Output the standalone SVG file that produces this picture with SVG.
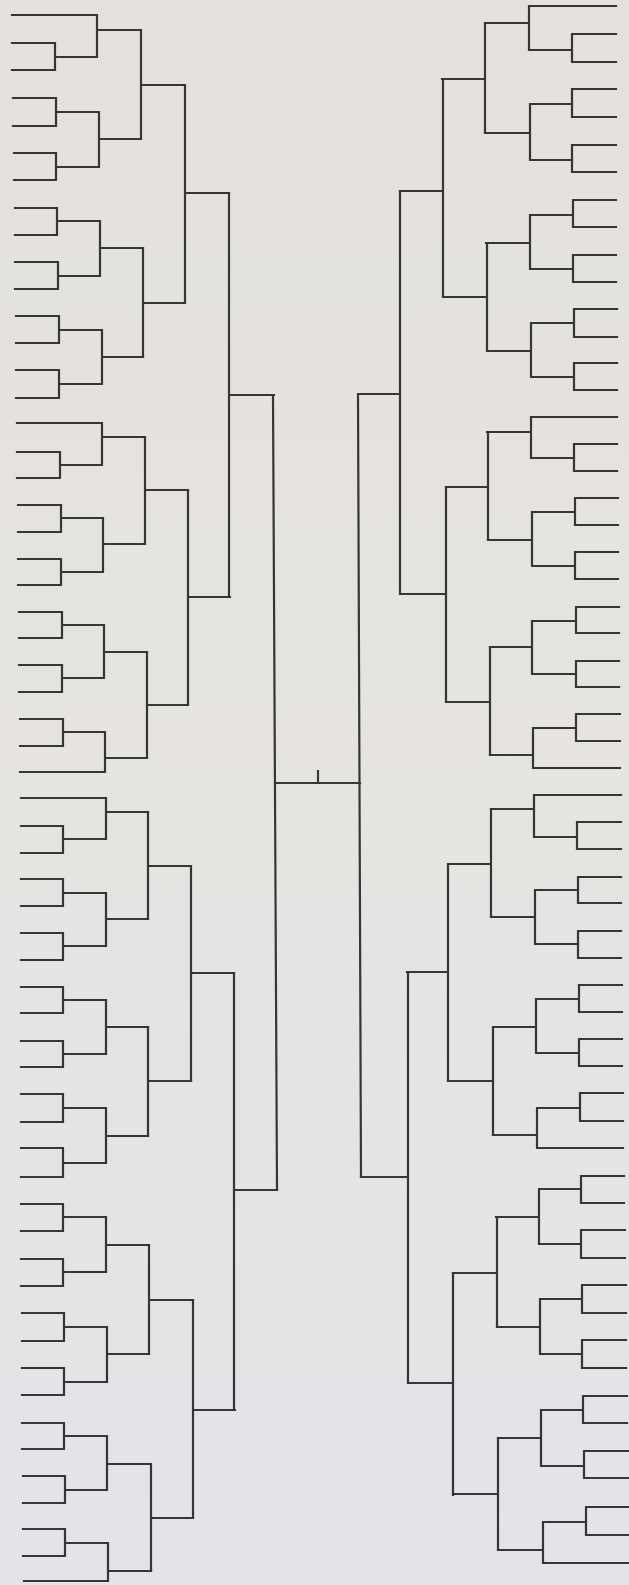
<svg xmlns="http://www.w3.org/2000/svg" width="629" height="1585" viewBox="0 0 629 1585">
<defs>
<linearGradient id="bg" x1="0" y1="0" x2="0" y2="1">
<stop offset="0" stop-color="#e4e1dc"/>
<stop offset="0.5" stop-color="#e6e4e1"/>
<stop offset="1" stop-color="#e3e4e9"/>
</linearGradient>
<style>
.ln{fill:none;stroke:#363636;stroke-width:2.2;stroke-linejoin:miter;stroke-linecap:square}
</style>
</defs>
<rect width="629" height="1585" fill="url(#bg)"/>

<g id="L-A" class="ln">
<path d="M12 15 H97 M12 43 H55 V70 H12 M55 57 H97 M97 15 V57 M97 30 H140"/>
<path d="M13 98 H56 V126 H13 M56 112 H99 M14 153 H56 V180 H14 M56 167 H99 M99 112 V167 M99 139 H141"/>
<path d="M141 30 V139 M141 85 H184"/>
</g>
<g id="L-B" class="ln">
<path d="M15 208 H57 V235 H15 M57 221 H100 M15 262 H58 V289 H15 M58 276 H100 M100 221 V276 M100 248 H143"/>
<path d="M16 316 H59 V343 H16 M59 330 H102 M16 370 H59 V398 H16 M59 384 H102 M102 330 V384 M102 357 H143"/>
<path d="M143 248 V357 M143 303 H185"/>
</g>
<g id="L-C" class="ln">
<path d="M17 423 H102 M17 452 H60 V478 H17 M60 465 H102 M102 423 V465 M102 437 H145"/>
<path d="M18 505 H61 V532 H18 M61 518 H103 M18 559 H61 V585 H18 M61 572 H103 M103 518 V572 M103 544 H145"/>
<path d="M145 437 V544 M145 490 H188"/>
</g>
<g id="L-D" class="ln">
<path d="M19 612 H62 V638 H19 M62 625 H104 M19 665 H62 V692 H19 M62 678 H104 M104 625 V678 M104 652 H147"/>
<path d="M20 719 H63 V746 H20 M63 732 H105 M20 772 H105 M105 732 V772 M105 758 H147"/>
<path d="M147 652 V758 M147 705 H188"/>
</g>
<g id="L-E" class="ln">
<path d="M21 798 H106 M21 826 H63 V853 H21 M63 839 H106 M106 798 V839 M106 812 H148"/>
<path d="M21 879 H63 V906 H21 M63 893 H106 M21 933 H63 V960 H21 M63 946 H106 M106 893 V946 M106 919 H148"/>
<path d="M148 812 V919 M148 866 H191"/>
</g>
<g id="L-F" class="ln">
<path d="M21 987 H63 V1013 H21 M63 1000 H106 M21 1041 H63 V1067 H21 M63 1054 H106 M106 1000 V1054 M106 1027 H148"/>
<path d="M21 1094 H63 V1122 H21 M63 1108 H106 M21 1148 H63 V1177 H21 M63 1163 H106 M106 1108 V1163 M106 1136 H148"/>
<path d="M148 1027 V1136 M148 1081 H191"/>
</g>
<g id="L-G" class="ln">
<path d="M21 1204 H63 V1231 H21 M63 1217 H106 M21 1259 H63 V1286 H21 M63 1272 H106 M106 1217 V1272 M106 1245 H149"/>
<path d="M22 1313 H64 V1341 H22 M64 1327 H107 M22 1368 H64 V1395 H22 M64 1382 H107 M107 1327 V1382 M107 1354 H149"/>
<path d="M149 1245 V1354 M149 1300 H193"/>
</g>
<g id="L-H" class="ln">
<path d="M22 1423 H64 V1449 H22 M64 1436 H107 M23 1476 H65 V1503 H23 M65 1490 H107 M107 1436 V1490 M107 1464 H150"/>
<path d="M23 1529 H65 V1556 H23 M65 1543 H108 M24 1581 H108 M108 1543 V1581 M108 1571 H151"/>
<path d="M151 1464 V1571 M151 1518 H193"/>
</g>

<g id="R-A" class="ln">
<path d="M616 6 H529 M616 34 H572 V62 H616 M572 50 H529 M529 6 V50 M529 23 H485"/>
<path d="M616 89 H572 V117 H616 M572 104 H530 M616 145 H572 V172 H616 M572 160 H530 M530 104 V160 M530 133 H485"/>
<path d="M485 23 V133 M485 79 H442"/>
</g>
<g id="R-B" class="ln">
<path d="M616 200 H573 V227 H616 M573 215 H530 M616 255 H573 V282 H616 M573 269 H530 M530 215 V269 M530 243 H486"/>
<path d="M617 309 H574 V337 H617 M574 323 H531 M617 363 H574 V390 H617 M574 377 H531 M531 323 V377 M531 351 H487"/>
<path d="M487 243 V351 M487 297 H443"/>
</g>
<g id="R-C" class="ln">
<path d="M617 417 H531 M617 444 H574 V471 H617 M574 458 H531 M531 417 V458 M531 432 H487"/>
<path d="M618 498 H575 V525 H618 M575 512 H532 M618 552 H575 V579 H618 M575 566 H532 M532 512 V566 M532 540 H488"/>
<path d="M488 432 V540 M488 487 H446"/>
</g>
<g id="R-D" class="ln">
<path d="M619 607 H576 V633 H619 M576 621 H532 M619 661 H576 V687 H619 M576 674 H532 M532 621 V674 M532 647 H490"/>
<path d="M620 714 H576 V741 H620 M576 728 H533 M620 768 H533 M533 728 V768 M533 755 H490"/>
<path d="M490 647 V755 M490 702 H446"/>
</g>
<g id="R-E" class="ln">
<path d="M621 795 H534 M621 822 H577 V849 H621 M577 837 H534 M534 795 V837 M534 809 H491"/>
<path d="M621 877 H578 V903 H621 M578 890 H535 M621 931 H578 V958 H621 M578 944 H535 M535 890 V944 M535 917 H491"/>
<path d="M491 809 V917 M491 864 H448"/>
</g>
<g id="R-F" class="ln">
<path d="M622 985 H579 V1012 H622 M579 999 H536 M622 1039 H579 V1066 H622 M579 1053 H536 M536 999 V1053 M536 1027 H493"/>
<path d="M623 1093 H580 V1121 H623 M580 1108 H537 M623 1148 H537 M537 1108 V1148 M537 1135 H493"/>
<path d="M493 1027 V1135 M493 1081 H448"/>
</g>
<g id="R-G" class="ln">
<path d="M624 1176 H581 V1203 H624 M581 1189 H539 M625 1230 H581 V1258 H625 M581 1244 H539 M539 1189 V1244 M539 1217 H496"/>
<path d="M626 1285 H582 V1313 H626 M582 1299 H540 M626 1340 H582 V1368 H626 M582 1354 H540 M540 1299 V1354 M540 1327 H497"/>
<path d="M497 1217 V1327 M497 1273 H453"/>
</g>
<g id="R-H" class="ln">
<path d="M627 1396 H583 V1423 H627 M583 1410 H541 M628 1451 H584 V1478 H628 M584 1466 H541 M541 1410 V1466 M541 1438 H498"/>
<path d="M629 1507 H586 V1535 H629 M586 1522 H543 M629 1563 H543 M543 1522 V1563 M543 1550 H498"/>
<path d="M498 1438 V1550 M498 1494 H453"/>
</g>

<g id="connectors" class="ln">
<path d="M185 85 V303 M185 193 H229"/>
<path d="M188 490 V705 M188 597 H230"/>
<path d="M229 193 V597 M229 395 H274"/>
<path d="M191 866 V1081 M191 973 H234"/>
<path d="M193 1300 V1518 M193 1410 H235"/>
<path d="M234 973 V1410 M234 1190 H277"/>
<path d="M273 395 L277 1190"/>
<path d="M443 79 V297 M443 191 H400"/>
<path d="M446 487 V702 M446 594 H401"/>
<path d="M400 191 V594 M400 394 H359"/>
<path d="M448 864 V1081 M448 972 H407"/>
<path d="M453 1273 V1495 M453 1383 H408"/>
<path d="M408 972 V1383 M408 1177 H361"/>
<path d="M358 394 L361 1177"/>
<path d="M275 783 H360 M318 771 V783"/>
</g>
</svg>
